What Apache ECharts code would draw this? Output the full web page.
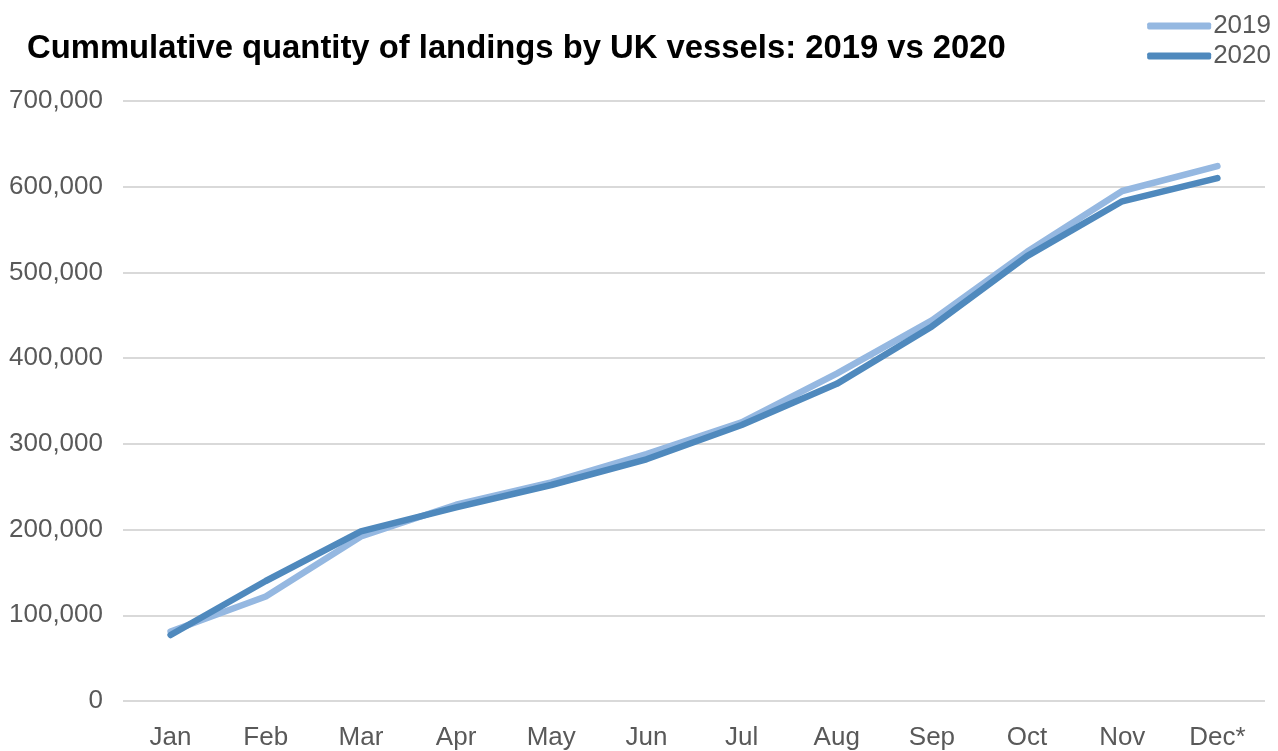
<!DOCTYPE html>
<html>
<head>
<meta charset="utf-8">
<script src="https://cdn.jsdelivr.net/npm/echarts@6/dist/echarts.min.js"></script>
<style>
html,body{margin:0;padding:0;background:#fff;}
#chart{width:1278px;height:751px;}
</style>
</head>
<body>
<div id="chart"></div>
<script>
// Cumulative landings (tonnes) by month
const months = ['Jan','Feb','Mar','Apr','May','Jun','Jul','Aug','Sep','Oct','Nov','Dec*'];
const landings2019 = [81000,122000,192000,229000,255000,288000,325000,382000,444000,524000,595000,624000];
const landings2020 = [77000,140000,198000,226000,252000,282000,322000,370000,437000,519000,583000,610000];
const yTicks = [0,100000,200000,300000,400000,500000,600000,700000];

const chart = echarts.init(document.getElementById('chart'));
const font = '"Liberation Sans", Arial, sans-serif';
chart.setOption({
  animation: false,
  title: {
    text: 'Cummulative quantity of landings by UK vessels: 2019 vs 2020',
    left: 22, top: 27,
    textStyle: {fontFamily: font, fontSize: 32.8, fontWeight: 'bold', color: '#000'}
  },
  legend: {
    orient: 'vertical',
    right: 2, top: 8,
    itemWidth: 64, itemHeight: 7, itemGap: 4,
    icon: 'roundRect',
    textStyle: {fontFamily: font, fontSize: 26, color: '#595959', padding: [0,0,0,-3]},
    data: ['2019','2020']
  },
  grid: {left: 123, right: 13, top: 101, bottom: 47},
  xAxis: {
    type: 'category',
    data: months,
    boundaryGap: true,
    axisLine: {show: false},
    axisTick: {show: false},
    axisLabel: {fontFamily: font, fontSize: 26, color: '#595959', margin: 24}
  },
  yAxis: {
    type: 'value',
    min: 0, max: 700000, interval: 100000,
    axisLine: {show: false},
    axisTick: {show: false},
    splitLine: {lineStyle: {color: '#d9d9d9', width: 2}},
    axisLabel: {
      fontFamily: font, fontSize: 26, color: '#595959', margin: 20,
      formatter: v => yTicks.includes(v) ? v.toLocaleString('en-GB') : ''
    }
  },
  series: [
    {name: '2019', type: 'line', data: landings2019, symbol: 'none',
     lineStyle: {width: 6.5, color: '#95b8e1', cap: 'round', join: 'round'},
     itemStyle: {color: '#95b8e1'}},
    {name: '2020', type: 'line', data: landings2020, symbol: 'none',
     lineStyle: {width: 6.5, color: '#4f89bd', cap: 'round', join: 'round'},
     itemStyle: {color: '#4f89bd'}}
  ]
});
</script>
</body>
</html>
